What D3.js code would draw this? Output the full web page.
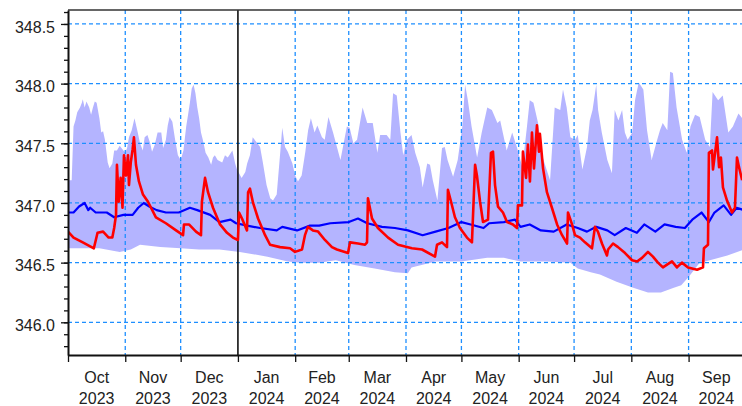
<!DOCTYPE html>
<html>
<head>
<meta charset="utf-8">
<script src="https://cdn.jsdelivr.net/npm/d3@7"></script>
<style>
    body { margin: 0; background: #fff; }
    svg { display: block; }
    text { font-family: "Liberation Sans", Arial, sans-serif; font-size: 16px; fill: #222; }
</style>
</head>
<body>
<div id="wrapper"></div>
<script>
// day offsets are counted from 1 Oct 2023
const startDay = Date.UTC(2023, 9, 1);
const endDay = Date.UTC(2024, 9, 1);

// upper edge of the range band
const upperDays = [0,2,3,4,5,6.5,7.5,8,9,10,11.5,12.5,13.5,14.5,15.5,17,18,19,20,21.5,22.5,24,25,26.5,28,30,31,32,33,34.5,36,37.5,39,40.5,41.5,43,44.5,45.5,47,48.5,50.5,51.5,53,54,55,56.5,58,59.5,61,62.5,64,65,66,67,68,69,70,71,72,73,74.5,76,77.5,78.5,79.5,81,83.5,85,86.5,89,90.5,91.5,94,96,97,98.5,100,102.5,104,105.5,107.5,109.5,111,113,115,116,117.5,119,121.5,123,124.5,126.5,128.5,130,131.5,133.5,135,137.5,139,141,143.5,147.5,151,152.5,154.5,156.5,159.5,162,165,167.5,169,172.5,174.5,176,178,180,181.5,183.5,186,188,190.5,192,194.5,196,197.5,200,202.5,204,205.5,208.5,211,213.5,215,216.5,218.5,221.5,224,227,229.5,232.5,234,237.5,240.5,243,246,248.5,250,252,254.5,257,261,263.5,266.5,268,270,272,274.5,276,278.5,281,282.5,284,286,287,289,292,294.5,296,298,300,301.5,303,305.5,307,309,311.5,313.5,316,319,320.5,322,324.5,326,327.5,329.5,332.5,335,337,339.5,342,345,347.5,349,352,354.5,357.5,360,363,366];
const upperValues = [347.19,347.19,347.64,347.69,347.76,347.80,347.84,347.87,347.80,347.85,347.80,347.74,347.80,347.85,347.84,347.71,347.59,347.60,347.53,347.34,347.29,347.33,347.44,347.44,347.48,347.44,347.42,347.46,347.55,347.61,347.71,347.61,347.50,347.44,347.55,347.57,347.50,347.43,347.49,347.59,347.59,347.46,347.53,347.65,347.72,347.68,347.53,347.40,347.36,347.44,347.64,347.74,347.84,347.96,347.99,347.92,347.80,347.71,347.59,347.53,347.42,347.38,347.32,347.38,347.40,347.36,347.34,347.40,347.38,347.44,347.33,347.28,347.21,347.26,347.33,347.40,347.55,347.50,347.47,347.34,347.15,347.04,347.02,347.07,347.44,347.63,347.47,347.43,347.33,347.23,347.18,347.23,347.43,347.61,347.71,347.59,347.65,347.55,347.53,347.72,347.59,347.36,347.64,347.63,347.50,347.53,347.80,347.67,347.67,347.42,347.57,347.57,347.53,347.92,347.90,347.59,347.40,347.53,347.57,347.42,347.30,347.13,347.33,347.32,347.19,347.02,347.46,347.47,347.36,347.22,347.36,347.64,347.99,347.86,347.64,347.38,347.59,347.80,347.78,347.67,347.69,347.44,347.59,347.47,347.30,347.64,347.86,347.84,347.67,347.38,347.19,347.80,347.78,347.95,347.80,347.55,347.53,347.57,347.28,347.47,347.69,347.78,347.99,347.78,347.59,347.36,347.25,347.78,347.69,347.78,347.59,347.53,347.59,347.86,348.01,347.95,347.61,347.36,347.53,347.61,347.67,347.61,348.10,348.09,347.80,347.53,347.42,347.64,347.74,347.72,347.53,347.47,347.93,347.86,347.90,347.59,347.64,347.75,347.69];

// lower edge of the range band
const lowerDays = [0,17,28,34,39,50,61,71,82,93,108,119,126,136,145,155,166,177,184,186,199,213,227,236,245,259,272,276,283,288,297,306,314,321,328,332,336,342,345,357,366];
const lowerValues = [346.62,346.62,346.59,346.61,346.65,346.63,346.62,346.61,346.61,346.59,346.55,346.51,346.50,346.50,346.52,346.48,346.45,346.42,346.41,346.46,346.51,346.51,346.54,346.54,346.51,346.51,346.50,346.45,346.42,346.40,346.34,346.29,346.25,346.25,346.29,346.31,346.38,346.50,346.51,346.56,346.61];

// median (blue)
const medianDays = [0,3,6,9,11,12,15,21,25,30,35,38,41,44,48,53,60,66,70,77,82,88,91,97,104,113,116,124,131,136,142,152,157,162,170,177,184,192,199,206,213,218,225,228,236,242,245,250,256,263,270,276,281,286,292,296,302,308,312,318,323,329,334,338,343,347,350,355,359,362,366];
const medianValues = [346.92,346.92,346.97,347.00,346.94,346.96,346.92,346.92,346.88,346.90,346.90,346.96,347.00,346.97,346.94,346.92,346.92,346.96,346.94,346.90,346.84,346.86,346.83,346.81,346.79,346.77,346.80,346.77,346.81,346.81,346.83,346.84,346.87,346.83,346.80,346.79,346.77,346.73,346.76,346.79,346.84,346.82,346.79,346.83,346.84,346.86,346.80,346.82,346.77,346.76,346.82,346.79,346.76,346.80,346.77,346.73,346.79,346.75,346.82,346.76,346.82,346.80,346.79,346.86,346.92,346.84,346.92,346.98,346.90,346.96,346.94];

// current year (red)
const currentDays = [0,3,8,14,16,19,22,24,25,26,26.5,27.5,28.5,29.5,30.3,31.4,32.5,33,34,35,35.7,36.8,38.4,40.6,43.3,47.6,53,58.5,62.3,62.8,65.5,69.3,72,72.5,74.2,75.8,78.5,82.3,86.1,89.3,92,92.6,94.2,96.9,97.5,98.5,100.2,102.9,106.7,109.4,114.8,120.2,122.9,126.7,128.3,129.9,132.6,135.4,139.1,142.9,145.6,151.6,152.7,157,160.8,161.9,162.4,164.6,167.8,173.3,178.7,186.2,191.7,198.7,199.8,202.5,205.2,205.7,207.4,209.5,212.2,216,218.7,219.3,220.4,221.4,223.1,224.7,227.4,229,230.1,231.2,232.8,235.5,237.7,240.9,243.1,243.6,245.8,246.3,248,249,250.1,251.2,252.3,253.9,255,255.5,257.2,259.3,262,264.8,267.5,270.2,270.7,272.9,274.5,277.2,279.9,283.7,285.3,286.9,289.1,291.8,292.4,295.1,297.8,301.6,305.4,308.1,310.8,314,316.7,319.4,322.1,327,329.7,332.4,335.7,340.6,343.8,344.3,346.5,347,348.7,349.2,351.4,352.5,353.5,354.6,356.8,359.5,361.1,362.2,363.3,365];
const currentValues = [346.76,346.71,346.67,346.62,346.75,346.76,346.71,346.71,346.79,346.90,347.32,347.01,347.21,346.96,347.40,347.23,347.40,347.15,347.34,347.45,347.55,347.32,347.18,347.07,347.01,346.88,346.83,346.77,346.73,346.82,346.82,346.76,346.73,347.01,347.21,347.09,346.96,346.82,346.75,346.71,346.69,346.92,346.87,346.77,347.09,347.12,347.00,346.87,346.73,346.65,346.63,346.62,346.59,346.61,346.73,346.80,346.77,346.76,346.69,346.63,346.61,346.58,346.67,346.66,346.65,346.67,347.04,346.87,346.79,346.71,346.65,346.62,346.61,346.55,346.65,346.67,346.63,347.11,347.01,346.88,346.79,346.71,346.67,346.90,347.32,347.23,347.01,346.84,346.86,347.42,347.43,347.15,346.97,346.92,346.84,346.82,346.79,346.98,346.98,347.43,347.21,347.49,347.18,347.59,347.29,347.65,347.43,347.58,347.29,347.09,346.96,346.82,346.73,346.66,346.92,346.82,346.73,346.71,346.67,346.62,346.80,346.76,346.66,346.56,346.61,346.66,346.63,346.58,346.52,346.51,346.54,346.59,346.55,346.50,346.46,346.51,346.46,346.50,346.46,346.44,346.46,346.62,346.65,347.42,347.44,347.28,347.55,347.30,347.38,347.13,347.02,346.92,346.96,347.38,347.30,347.19];

const yLabelTicks = [346.0, 346.5, 347.0, 347.5, 348.0, 348.5];
const yMinorTicks = d3.range(3458, 3487).map(d => d / 10);

const dimension = {
    width: 742,
    height: 406,
    margin: { left: 68, right: -2, top: 10, bottom: 51 }
};
const plotRight = dimension.width - dimension.margin.right;
const plotBottom = dimension.height - dimension.margin.bottom;

const svg = d3.select("#wrapper").append("svg")
    .attr("width", dimension.width)
    .attr("height", dimension.height);

const x = d3.scaleUtc()
    .domain([new Date(startDay), new Date(endDay)])
    .range([dimension.margin.left, plotRight]);
const y = d3.scaleLinear()
    .domain([345.726, 348.617])
    .range([plotBottom, dimension.margin.top]);

const dayDate = d => new Date(startDay + d * 864e5);
const pairs = (days, vals) => days.map((d, i) => [dayDate(d), vals[i]]);

svg.append("clipPath").attr("id", "plotclip")
    .append("rect")
    .attr("x", dimension.margin.left).attr("y", dimension.margin.top)
    .attr("width", plotRight - dimension.margin.left)
    .attr("height", plotBottom - dimension.margin.top);

const plot = svg.append("g").attr("clip-path", "url(#plotclip)");

const line = d3.line().x(p => x(p[0])).y(p => y(p[1]));

// range band
const band = pairs(upperDays, upperValues).concat(pairs(lowerDays, lowerValues).reverse());
plot.append("path")
    .attr("d", line(band) + "Z")
    .attr("fill", "#b4b4ff")
    .attr("stroke", "none");

// grid
const months = d3.utcMonth.range(new Date(startDay), new Date(endDay));
plot.selectAll(".hgrid").data(yLabelTicks).join("line")
    .attr("x1", dimension.margin.left).attr("x2", plotRight)
    .attr("y1", d => y(d)).attr("y2", d => y(d))
    .attr("stroke", "#1e8fff").attr("stroke-width", 1.3)
    .attr("stroke-dasharray", "4,3");
plot.selectAll(".vgrid").data(months.slice(1).filter(m => m.getUTCMonth() !== 0)).join("line")
    .attr("x1", d => x(d)).attr("x2", d => x(d))
    .attr("y1", dimension.margin.top).attr("y2", plotBottom)
    .attr("stroke", "#1e8fff").attr("stroke-width", 1.3)
    .attr("stroke-dasharray", "4,3");
plot.selectAll(".ygrid").data(months.filter(m => m.getUTCMonth() === 0)).join("line")
    .attr("x1", d => x(d)).attr("x2", d => x(d))
    .attr("y1", dimension.margin.top).attr("y2", plotBottom)
    .attr("stroke", "#111").attr("stroke-width", 1.6);

// median and current year
plot.append("path")
    .attr("d", line(pairs(medianDays, medianValues)))
    .attr("fill", "none").attr("stroke", "#0000ff").attr("stroke-width", 2.2)
    .attr("stroke-linejoin", "round");
plot.append("path")
    .attr("d", line(pairs(currentDays, currentValues)))
    .attr("fill", "none").attr("stroke", "#ff0000").attr("stroke-width", 2.6)
    .attr("stroke-linejoin", "round");

// top frame
svg.append("line")
    .attr("x1", dimension.margin.left).attr("x2", plotRight)
    .attr("y1", dimension.margin.top).attr("y2", dimension.margin.top)
    .attr("stroke", "#333").attr("stroke-width", 1.6);

// y axis
const yMinor = d3.axisLeft(y).tickValues(yMinorTicks).tickSize(4).tickSizeOuter(0).tickFormat("");
const yMajor = d3.axisLeft(y).tickValues(yLabelTicks).tickSize(7).tickSizeOuter(0)
    .tickPadding(6).tickFormat(d3.format(".1f"));
svg.append("g").attr("transform", `translate(${dimension.margin.left},0)`).call(yMinor)
    .call(g => g.selectAll("line").attr("stroke", "#111").attr("stroke-width", 1.3))
    .call(g => g.select(".domain").remove());
svg.append("g").attr("transform", `translate(${dimension.margin.left},0)`).call(yMajor)
    .call(g => g.select(".domain").attr("stroke", "#111").attr("stroke-width", 2))
    .call(g => g.selectAll("line").attr("stroke", "#111").attr("stroke-width", 1.3))
    .call(g => g.selectAll("text").attr("font-size", 16).attr("font-family", null).attr("dy", "0.52em").attr("fill", "#222"));

// x axis
const xAxis = d3.axisBottom(x).tickValues(months).tickSize(7).tickSizeOuter(0).tickFormat("");
svg.append("g").attr("transform", `translate(0,${plotBottom})`).call(xAxis)
    .call(g => g.select(".domain").attr("stroke", "#111").attr("stroke-width", 2))
    .call(g => g.selectAll("line").attr("stroke", "#111").attr("stroke-width", 1.3));

const monthFmt = d3.utcFormat("%b");
const yearFmt = d3.utcFormat("%Y");
const labels = svg.append("g").selectAll("g").data(months).join("g")
    .attr("transform", d => `translate(${(x(d) + x(d3.utcMonth.offset(d, 1))) / 2},0)`);
labels.append("text").attr("y", 383).attr("text-anchor", "middle").text(monthFmt);
labels.append("text").attr("y", 404).attr("text-anchor", "middle").text(yearFmt);
</script>
</body>
</html>
